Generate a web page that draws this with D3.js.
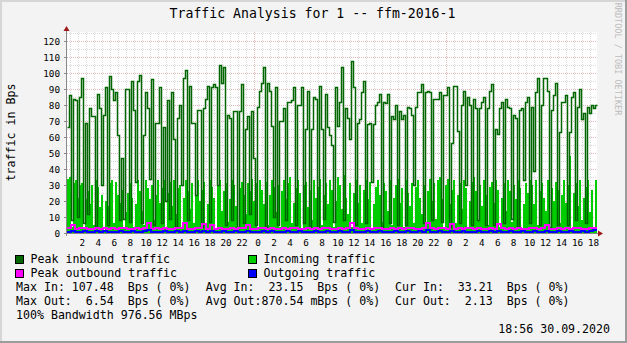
<!DOCTYPE html>
<html>
<head>
<meta charset="utf-8">
<script src="https://cdn.jsdelivr.net/npm/d3@7"></script>
<style>
body { margin: 0; background: #f3f3f3; }
svg text { font-family: "DejaVu Sans Mono", monospace; }
</style>
</head>
<body>
<svg id="chart" width="627" height="343"></svg>
<script>
// time window of the graph
const startTime = new Date(2020, 8, 28, 0, 35)
const endTime = new Date(2020, 8, 30, 18, 56)

// peak inbound (Bps), one value per 2px column
const peakIn = [66,86,8,84,83,10,85,97,6,69,12,78,73,73,4,87,78,30,74,91,5,98,90,83,88,61,8,47,9,90,90,7,95,77,32,95,99,6,61,88,78,34,96,5,69,
  69,91,6,66,20,83,9,88,59,3,72,80,30,97,102,8,92,69,69,24,77,77,4,78,84,92,7,91,93,91,30,105,94,104,5,74,72,8,76,76,3,76,93,6,65,73,12,
  76,47,5,79,89,94,104,4,94,89,67,10,91,5,70,70,78,8,82,82,83,91,5,80,80,91,6,65,89,4,65,85,84,3,92,65,9,87,66,61,55,7,91,67,82,104,
  8,78,72,59,107.48,91,5,69,71,88,95,6,68,69,32,68,80,82,87,4,82,81,87,6,73,71,80,5,76,71,74,5,79,78,74,30,79,88,88,93,6,88,89,88,8,84,84,
  84,88,7,86,86,91,4,56,92,92,64,6,80,89,30,85,80,5,84,78,8,78,82,85,5,78,89,93,5,65,62,78,82,6,84,79,78,9,74,72,4,77,78,33,82,85,6,
  79,39,88,97,5,80,97,97,89,3,77,86,94,5,63,82,82,86,5,63,85,88,8,79,90,71,75,6,79,75,80,78,80]

// incoming traffic (Bps)
const incoming = [34,35,4,31,33,22,30,31,3,21,26,18,30,5,33,29,16,24,2,20,17,31,33,6,32,24,19,27,3,13,25,31,22,4,18,33,26,14,5,33,28,21,30,8,24,
  33,19,28,33,4,25,32,17,33,12,28,30,3,22,33,26,15,31,6,24,33,20,27,32,5,18,33,29,22,2,30,33,14,26,31,7,21,33,30,17,4,28,32,24,12,31,26,
  34,20,31,3,33,27,18,32,5,24,33,29,13,30,4,26,33,21,31,35,6,19,28,33,25,3,30,32,16,27,8,33,22,29,34,5,24,31,18,33,27,4,20,35,30,15,
  36,22,12,31,4,25,33,19,30,6,27,33,21,32,3,18,29,33,24,7,31,26,14,33,5,22,30,34,19,28,4,33,25,17,31,6,29,33,22,12,30,3,26,34,20,31,9,
  33,35,21,4,30,34,18,27,33,6,24,31,15,33,28,3,20,32,35,26,8,30,17,33,24,5,29,32,19,33,27,4,22,31,14,33,26,7,30,21,33,28,3,18,31,25,33,
  30,18,33,5,26,31,22,14,33,4,28,20,32,27,6,24,33,19,30,48,3,25,31,17,33,8,22,29,33,13,27,4,33.21]

// peak outbound (Bps), one value per 4px
const peakOut = [3.1,4.8,2.6,2.9,3.3,2.4,2.8,3.0,2.5,3.4,2.7,3.1,2.6,2.9,3.2,2.5,2.8,3.0,2.6,3.3,
  6.0,2.7,2.9,2.5,3.1,2.8,2.6,3.0,3.3,6.1,2.7,2.5,2.9,3.2,5.6,2.6,5.0,2.8,3.0,2.5,
  2.7,3.1,2.6,2.9,3.3,4.8,2.7,2.4,2.9,3.0,2.6,3.2,2.8,2.5,3.1,2.7,2.9,3.4,2.6,2.8,
  3.0,2.5,3.2,2.7,2.9,3.1,2.6,2.8,3.3,2.7,2.9,6.2,3.0,2.6,2.8,3.2,2.5,2.9,3.1,2.7,
  2.6,3.0,2.8,3.3,2.5,2.9,3.1,2.7,2.6,3.4,6.54,3.0,2.7,2.9,3.2,2.6,5.8,2.8,3.1,2.5,
  2.9,3.0,2.7,3.3,2.6,2.8,3.1,2.5,5.6,2.9,2.7,3.2,2.6,3.0,2.8,2.5,3.1,2.9,2.7,3.3,
  5.2,2.6,2.8,3.0,2.5,3.2,2.7,2.9,3.1,2.6,2.8,3.0,3.2]

// outgoing traffic (Bps)
const outgoing = [0.9,1.2,0.7,0.8,1.1,0.6,0.9,1.0,0.7,1.3,0.8,0.9,0.6,1.1,0.8,0.7,1.0,0.9,0.6,1.2,
  1.6,0.8,0.7,0.9,1.0,0.6,0.8,1.1,0.9,1.5,0.7,0.8,1.0,0.6,1.3,0.9,1.2,0.7,0.8,1.0,
  0.6,0.9,1.1,0.7,0.8,1.4,0.9,0.6,0.8,1.0,0.7,1.1,0.8,0.6,0.9,1.2,0.7,0.8,1.0,0.6,
  0.9,0.7,1.1,0.8,0.6,1.0,0.9,0.7,1.2,0.8,0.6,1.6,0.9,0.7,0.8,1.1,0.6,0.9,1.0,0.7,
  0.8,0.6,1.2,0.9,0.7,1.0,0.8,0.6,1.1,0.9,1.7,0.8,0.7,1.0,0.6,0.9,1.5,0.8,0.7,1.1,
  0.6,0.9,0.8,1.2,0.7,0.6,1.0,0.8,1.4,0.9,0.7,1.1,0.6,0.8,1.0,0.7,0.9,1.2,0.6,0.8,
  1.3,0.9,0.7,1.0,0.6,0.8,1.1,0.7,0.9,1.0,0.8,1.4,2.13]

const yTicks = d3.range(0, 121, 10)
const yMinor = d3.range(5, 126, 5)

const legendItems = [
  {label: 'Peak inbound traffic', color: '#006600', col: 0, row: 0},
  {label: 'Incoming traffic', color: '#00cc00', col: 1, row: 0},
  {label: 'Peak outbound traffic', color: '#ff00ff', col: 0, row: 1},
  {label: 'Outgoing traffic', color: '#0000ff', col: 1, row: 1}
]
const statLines = [
  ['Max In: 107.48  Bps ( 0%)', 'Avg In:  23.15  Bps ( 0%)', 'Cur In:  33.21  Bps ( 0%)'],
  ['Max Out:  6.54  Bps ( 0%)', 'Avg Out:870.54 mBps ( 0%)', 'Cur Out:  2.13  Bps ( 0%)']
]

const W = 627, H = 343
const plotL = 67, plotR = 597, plotT = 32, plotB = 233

let svg = d3.select('#chart')

// frame
svg.append('rect').attr('width', W).attr('height', H).attr('fill', '#f3f3f3')
svg.append('path').attr('d', `M1,${H} V1 H${W}`).attr('fill', 'none').attr('stroke', '#d6d6d6').attr('stroke-width', 2)
svg.append('path').attr('d', `M0,${H - 1} H${W - 1} V0`).attr('fill', 'none').attr('stroke', '#9c9c9c').attr('stroke-width', 2)

let x = d3.scaleTime().domain([startTime, endTime]).range([plotL, plotR])
let y = d3.scaleLinear().domain([0, (plotB - plotT) / 1.6]).range([plotB, plotT])

svg.append('rect')
  .attr('x', plotL).attr('y', plotT)
  .attr('width', plotR - plotL).attr('height', plotB - plotT)
  .attr('fill', '#ffffff')

let grid = svg.append('g')

// minor + major grid
grid.selectAll('.hmin').data(yMinor).enter().append('line')
  .attr('x1', plotL).attr('x2', plotR)
  .attr('y1', d => Math.round(y(d)) + 0.5).attr('y2', d => Math.round(y(d)) + 0.5)
  .attr('stroke', d => d % 10 === 0 ? '#deb4b4' : '#d9d9d9')
  .attr('stroke-dasharray', '1,1')

let hours = d3.timeHour.range(d3.timeHour.ceil(startTime), endTime)
grid.selectAll('.vmin').data(hours).enter().append('line')
  .attr('x1', d => Math.round(x(d)) + 0.5).attr('x2', d => Math.round(x(d)) + 0.5)
  .attr('y1', plotT).attr('y2', plotB)
  .attr('stroke', d => d.getHours() === 0 ? '#deb4b4' : '#d9d9d9')
  .attr('stroke-dasharray', '1,1')

// series
let pts = (arr) => {
  let n = arr.length
  let span = endTime - startTime
  let p = arr.map((v, i) => [new Date(+startTime + span * i / n), v])
  p.push([endTime, arr[n - 1]])
  return p
}
let px = d => Math.round(x(d[0]))
let py = d => Math.round(y(d[1]))

svg.append('path')
  .datum(pts(incoming))
  .attr('fill', '#00cc00').attr('shape-rendering', 'crispEdges')
  .attr('d', d3.area().curve(d3.curveStepAfter).x(px).y0(y(0)).y1(py))

svg.append('path')
  .datum(pts(peakIn))
  .attr('fill', 'none').attr('stroke', '#006600').attr('stroke-width', 1.5)
  .attr('d', d3.line().curve(d3.curveStepAfter).x(d => px(d) + 0.5).y(d => py(d) + 0.5))

svg.append('path')
  .datum(pts(peakOut))
  .attr('fill', 'none').attr('stroke', '#ff00ff').attr('stroke-width', 2)
  .attr('shape-rendering', 'crispEdges')
  .attr('d', d3.line().curve(d3.curveStepAfter).x(px).y(py))

svg.append('path')
  .datum(pts(outgoing))
  .attr('fill', 'none').attr('stroke', '#0000ff').attr('stroke-width', 2)
  .attr('shape-rendering', 'crispEdges')
  .attr('d', d3.line().curve(d3.curveStepAfter).x(px).y(py))

// axes
svg.append('line').attr('x1', plotL - 0.5).attr('x2', plotL - 0.5).attr('y1', plotT - 2).attr('y2', plotB + 3).attr('stroke', '#888')
svg.append('line').attr('x1', plotL - 3).attr('x2', plotR + 3).attr('y1', plotB + 0.5).attr('y2', plotB + 0.5).attr('stroke', '#888')
svg.append('path').attr('d', `M${plotL - 3.5},${plotT - 1} L${plotL - 0.5},${plotT - 6} L${plotL + 2.5},${plotT - 1} Z`).attr('fill', '#a01818')
svg.append('path').attr('d', `M${plotR + 1},${plotB - 2.5} L${plotR + 6},${plotB + 0.5} L${plotR + 1},${plotB + 3.5} Z`).attr('fill', '#a01818')

svg.append('g').selectAll('line').data(yTicks).enter().append('line')
  .attr('x1', plotL - 3).attr('x2', plotL)
  .attr('y1', d => Math.round(y(d)) + 0.5).attr('y2', d => Math.round(y(d)) + 0.5)
  .attr('stroke', '#888')

svg.append('g').selectAll('text').data(yTicks).enter().append('text')
  .attr('x', 60).attr('y', d => y(d) + 3.5)
  .attr('text-anchor', 'end').attr('font-size', 9.3).attr('fill', '#000')
  .text(d => d)

let labelHours = d3.timeHour.every(2).range(d3.timeHour.ceil(startTime), endTime)
svg.append('g').selectAll('text').data(labelHours).enter().append('text')
  .attr('x', d => x(d3.timeMinute.offset(d, 30)))
  .attr('y', 245.5)
  .attr('text-anchor', 'middle').attr('font-size', 9.3).attr('fill', '#000')
  .text(d => d3.timeFormat('%-H')(d))

// titles
svg.append('text').attr('x', 312.5).attr('y', 18).attr('text-anchor', 'middle')
  .attr('font-size', 13.2).text('Traffic Analysis for 1 -- ffm-2016-1')

svg.append('text').attr('transform', 'translate(14.5,132.5) rotate(-90)')
  .attr('text-anchor', 'middle').attr('font-size', 11.6)
  .text('traffic in Bps')

svg.append('text').attr('transform', 'translate(615,59) rotate(90)')
  .attr('text-anchor', 'middle').attr('font-size', 8.5).attr('fill', '#bdbdbd')
  .text('RRDTOOL / TOBI OETIKER')

// legend
let leg = svg.append('g').selectAll('g').data(legendItems).enter().append('g')
  .attr('transform', d => `translate(${d.col ? 248 : 15},${255 + d.row * 14})`)
leg.append('rect').attr('x', 0.5).attr('y', 0.5).attr('width', 8).attr('height', 8)
  .attr('fill', d => d.color).attr('stroke', '#000')
leg.append('text').attr('x', 15.5).attr('y', 8.3).attr('font-size', 11.6).text(d => d.label)

let statX = [16, 205.7, 395]
statLines.forEach((line, r) => {
  line.forEach((s, c) => {
    svg.append('text').attr('x', statX[c]).attr('y', 291 + r * 14)
      .attr('font-size', 11.6).style('white-space', 'pre')
      .text(s)
  })
})
svg.append('text').attr('x', 16).attr('y', 319).attr('font-size', 11.6).text('100% Bandwidth 976.56 MBps')
svg.append('text').attr('x', 610).attr('y', 333).attr('text-anchor', 'end').attr('font-size', 11.6).text('18:56 30.09.2020')
</script>
</body>
</html>
